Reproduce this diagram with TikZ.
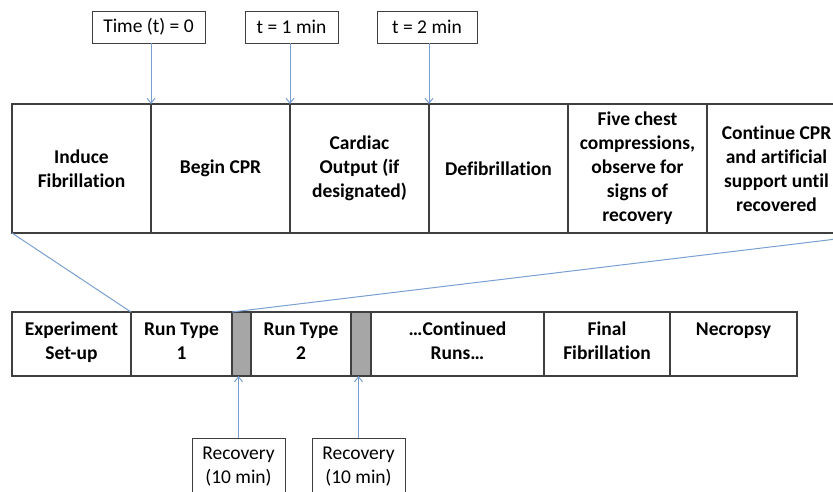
\documentclass[tikz,border=0pt]{standalone}
\usepackage{fontspec}
\setmainfont{Carlito}[Ligatures=NoCommon]
\usetikzlibrary{arrows.meta,calc}
\definecolor{lin}{HTML}{3F3F3F}
\definecolor{arr}{HTML}{7A9FD3}
\definecolor{gry}{HTML}{A6A6A6}
\begin{document}
\begin{tikzpicture}[x=1pt,y=-1pt,
  every node/.style={inner sep=0pt, outer sep=0pt},
  fnt/.style={font=\fontsize{19.5}{24}\selectfont},
  topcell/.style={draw=lin, line width=1.5pt, minimum width=139pt, minimum height=129pt, anchor=north west, align=center, fnt, font=\fontsize{19.5}{24}\selectfont\bfseries},
  botcell/.style={draw=lin, line width=1.2pt, minimum height=64pt, anchor=north west, font=\fontsize{19.5}{24}\selectfont\bfseries},
  graycell/.style={draw=lin, line width=1.2pt, fill=gry, minimum height=64pt, anchor=north west},
  lblbox/.style={draw=lin, line width=1pt, minimum height=32pt, align=center, fnt},
  recbox/.style={draw=lin, line width=1pt, minimum width=93pt, minimum height=57pt, anchor=north, align=center, fnt},
  arrow/.style={draw=arr, line width=1pt, -{Straight Barb[length=5pt,width=8pt]}},
  zoomline/.style={draw=arr, line width=1pt}
]
\useasboundingbox (0,0) rectangle (833,491);
\clip (0,0) rectangle (833,491);

% top strip
\node[topcell] (c1) at (12,104) {Induce\\Fibrillation};
\node[topcell] (c2) at (c1.north east) {Begin CPR};
\node[topcell] (c3) at (c2.north east) {Cardiac\\Output (if\\designated)};
\node[topcell] (c4) at (c3.north east) {Defibrillation};
\node[topcell] (c5) at (c4.north east) {Five chest\\compressions,\\observe for\\signs of\\recovery};
\node[topcell] (c6) at (c5.north east) {Continue CPR\\and artificial\\support until\\recovered};

% time labels
\node[lblbox, minimum width=113pt] (t0) at (148.5,27) {Time (t) = 0};
\node[lblbox, minimum width=93pt] (t1) at (291.5,27) {t = 1 min};
\node[lblbox, minimum width=100pt] (t2) at (427,27) {t = 2 min};

\draw[arrow] (t0.south -| c2.north west) -- (c2.north west);
\draw[arrow] (t1.south -| c3.north west) -- (c3.north west);
\draw[arrow] (t2.south -| c4.north west) -- (c4.north west);

% bottom strip
\node[botcell, minimum width=119pt] (b1) at (12,312) {\parbox[c][64pt][t]{115pt}{\centering\rule{0pt}{23pt}Experiment\\Set-up}};
\node[botcell, minimum width=101pt] (b2) at (b1.north east) {\parbox[c][64pt][t]{97pt}{\centering\rule{0pt}{23pt}Run Type\\1}};
\node[graycell, minimum width=19pt] (g1) at (b2.north east) {};
\node[botcell, minimum width=100pt] (b3) at (g1.north east) {\parbox[c][64pt][t]{96pt}{\centering\rule{0pt}{23pt}Run Type\\2}};
\node[graycell, minimum width=20pt] (g2) at (b3.north east) {};
\node[botcell, minimum width=173pt] (b4) at (g2.north east) {\parbox[c][64pt][t]{169pt}{\centering\rule{0pt}{23pt}…Continued\\Runs…}};
\node[botcell, minimum width=126pt] (b5) at (b4.north east) {\parbox[c][64pt][t]{122pt}{\centering\rule{0pt}{23pt}Final\\Fibrillation}};
\node[botcell, minimum width=127pt] (b6) at (b5.north east) {\parbox[c][64pt][t]{123pt}{\centering\rule{0pt}{23pt}Necropsy}};

% zoom lines
\coordinate (rend) at ($(c6.south east)+(40,0)$);
\draw[zoomline] (c1.south west) -- (b2.north west);
\draw[zoomline] (rend) -- (g1.north west);

% recovery labels
\node[recbox] (r1) at (238.5,438) {Recovery\\(10 min)};
\node[recbox] (r2) at (358.5,438) {Recovery\\(10 min)};
\draw[arrow] (r1.north) -- (r1.north |- g1.south);
\draw[arrow] (r2.north) -- (r2.north |- g2.south);
\end{tikzpicture}
\end{document}
